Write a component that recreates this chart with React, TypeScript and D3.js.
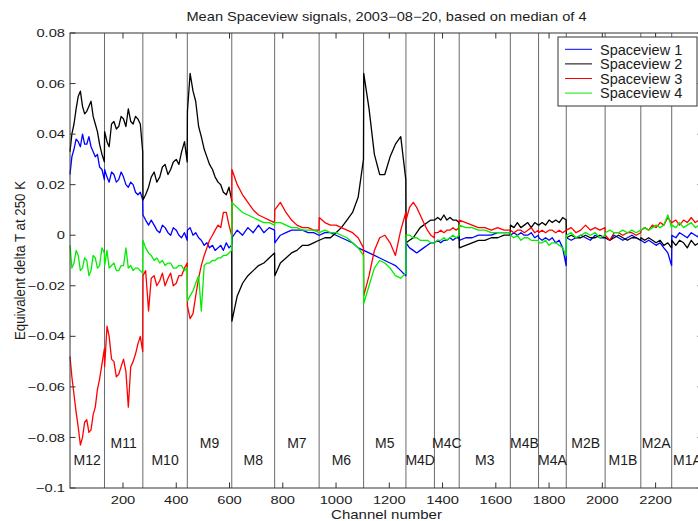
import React from "react";
import * as d3 from "d3";

// AIRS module layout (channel ranges)
const moduleNames = ["M12", "M11", "M10", "M9", "M8", "M7", "M6", "M5", "M4D", "M4C", "M3", "M4B", "M4A", "M2B", "M1B", "M2A", "M1A"];
const moduleStart = [1, 131, 275, 442, 609, 770, 937, 1104, 1263, 1370, 1463, 1655, 1761, 1865, 2011, 2145, 2261];
const moduleEnd = [130, 274, 441, 608, 769, 936, 1103, 1262, 1369, 1462, 1654, 1760, 1864, 2010, 2144, 2260, 2378];
const labelLevel = [-0.089, -0.082, -0.089, -0.082, -0.089, -0.082, -0.089, -0.082, -0.089, -0.082, -0.089, -0.082, -0.089, -0.082, -0.089, -0.082, -0.089];

// sampled channels, one row per module
const channels = [
  1, 8, 16, 24, 32, 40, 48, 56, 64, 72, 80, 88, 96, 104, 112, 121, 130,
  131, 140, 148, 157, 166, 175, 184, 193, 202, 211, 220, 229, 238, 247, 256, 265, 274,
  275, 285, 296, 306, 317, 327, 338, 348, 358, 369, 379, 389, 400, 410, 420, 431, 441,
  442, 452, 463, 473, 484, 494, 505, 515, 525, 536, 546, 557, 567, 577, 588, 598, 608,
  609, 629, 649, 669, 689, 709, 729, 749, 769,
  770, 791, 812, 833, 853, 874, 895, 916, 936,
  937, 958, 979, 1000, 1020, 1041, 1062, 1083, 1103,
  1104, 1124, 1144, 1164, 1183, 1203, 1223, 1243, 1262,
  1263, 1276, 1290, 1303, 1316, 1329, 1343, 1356, 1369,
  1370, 1382, 1393, 1405, 1416, 1428, 1439, 1451, 1462,
  1463, 1487, 1511, 1535, 1559, 1583, 1607, 1631, 1654,
  1655, 1668, 1681, 1694, 1707, 1720, 1733, 1746, 1760,
  1761, 1774, 1787, 1800, 1812, 1825, 1838, 1851, 1864,
  1865, 1883, 1901, 1919, 1937, 1955, 1973, 1991, 2010,
  2011, 2028, 2044, 2061, 2077, 2094, 2111, 2127, 2144,
  2145, 2159, 2174, 2188, 2202, 2217, 2231, 2246, 2260,
  2261, 2276, 2290, 2305, 2319, 2334, 2349, 2363, 2378,
];

const spaceview1 = [
  0.024, 0.031, 0.034, 0.038, 0.037, 0.035, 0.040, 0.036, 0.036, 0.039, 0.035, 0.033, 0.031, 0.032, 0.027, 0.026, 0.022,
  0.026, 0.023, 0.021, 0.025, 0.024, 0.021, 0.022, 0.025, 0.023, 0.020, 0.019, 0.021, 0.020, 0.017, 0.016, 0.017, 0.014,
  0.008, 0.006, 0.004, 0.006, 0.004, 0.002, 0.001, 0.004, 0.003, 0.001, 0.000, 0.003, 0.002, 0.000, -0.001, 0.001, -0.002,
  0.002, 0.003, 0.000, 0.001, -0.001, -0.002, -0.004, -0.003, -0.005, -0.004, -0.006, -0.005, -0.004, -0.006, -0.003, -0.005, -0.004,
  -0.001, 0.002, 0.000, 0.003, 0.001, 0.004, 0.001, 0.003, 0.002,
  -0.003, 0.000, 0.001, 0.002, 0.002, 0.002, 0.001, 0.001, 0.000,
  0.000, 0.001, 0.001, 0.000, -0.001, -0.002, -0.003, -0.005, -0.006,
  -0.006, -0.007, -0.008, -0.009, -0.010, -0.011, -0.012, -0.014, -0.016,
  -0.003, -0.005, -0.006, -0.007, -0.006, -0.005, -0.004, -0.003, -0.003,
  -0.003, -0.002, -0.003, -0.002, -0.002, -0.001, -0.002, -0.001, -0.001,
  -0.002, -0.001, -0.001, 0.000, 0.000, 0.000, 0.001, 0.001, 0.001,
  0.000, 0.001, 0.000, 0.001, 0.000, 0.000, 0.001, -0.001, 0.000,
  -0.001, -0.002, -0.001, -0.002, -0.001, -0.003, -0.002, -0.005, -0.012,
  -0.001, -0.002, -0.001, 0.000, -0.001, -0.002, 0.000, -0.001, -0.001,
  -0.001, -0.002, 0.000, -0.001, -0.002, -0.001, 0.000, -0.001, -0.002,
  -0.002, -0.003, -0.002, -0.003, -0.004, -0.003, -0.005, -0.007, -0.012,
  0.000, -0.001, 0.001, 0.000, -0.001, 0.001, 0.000, -0.001, 0.000,
];

const spaceview2 = [
  0.033, 0.040, 0.044, 0.050, 0.055, 0.057, 0.051, 0.048, 0.049, 0.051, 0.053, 0.047, 0.044, 0.041, 0.036, 0.032, 0.029,
  0.041, 0.037, 0.035, 0.044, 0.045, 0.042, 0.043, 0.047, 0.046, 0.043, 0.050, 0.045, 0.044, 0.047, 0.046, 0.044, 0.033,
  0.014, 0.016, 0.019, 0.023, 0.025, 0.021, 0.023, 0.027, 0.028, 0.024, 0.026, 0.029, 0.030, 0.028, 0.033, 0.037, 0.029,
  0.049, 0.064, 0.057, 0.053, 0.043, 0.039, 0.034, 0.031, 0.028, 0.026, 0.023, 0.021, 0.020, 0.017, 0.016, 0.019, 0.014,
  -0.034, -0.024, -0.019, -0.016, -0.014, -0.012, -0.011, -0.009, -0.007,
  -0.016, -0.011, -0.009, -0.007, -0.006, -0.004, -0.004, -0.003, -0.002,
  -0.002, -0.001, -0.001, 0.001, 0.003, 0.006, 0.009, 0.015, 0.030,
  0.064, 0.050, 0.032, 0.024, 0.024, 0.031, 0.036, 0.039, 0.022,
  -0.003, -0.002, -0.001, 0.001, 0.003, 0.004, 0.005, 0.006, 0.006,
  0.006, 0.007, 0.006, 0.008, 0.006, 0.007, 0.006, 0.006, 0.005,
  -0.005, -0.004, -0.003, -0.002, -0.002, -0.001, -0.001, 0.000, 0.000,
  0.004, 0.003, 0.005, 0.003, 0.004, 0.005, 0.003, 0.005, 0.004,
  0.004, 0.005, 0.004, 0.006, 0.005, 0.006, 0.005, 0.007, 0.006,
  -0.001, 0.000, -0.001, -0.001, 0.000, -0.001, -0.001, 0.000, -0.001,
  -0.001, -0.002, -0.001, 0.000, -0.001, -0.002, -0.001, -0.001, -0.002,
  -0.001, -0.002, -0.001, -0.002, -0.003, -0.002, -0.004, -0.003, -0.005,
  -0.002, -0.004, -0.002, -0.003, -0.005, -0.002, -0.004, -0.003, -0.003,
];

const spaceview3 = [
  -0.048, -0.056, -0.063, -0.070, -0.076, -0.083, -0.080, -0.074, -0.073, -0.078, -0.077, -0.071, -0.068, -0.061, -0.057, -0.051, -0.045,
  -0.052, -0.036, -0.040, -0.049, -0.050, -0.056, -0.055, -0.052, -0.049, -0.054, -0.068, -0.052, -0.050, -0.047, -0.043, -0.040, -0.046,
  -0.016, -0.014, -0.030, -0.017, -0.016, -0.020, -0.018, -0.015, -0.020, -0.017, -0.015, -0.020, -0.019, -0.016, -0.016, -0.013, -0.011,
  -0.028, -0.033, -0.031, -0.024, -0.017, -0.012, -0.008, -0.005, -0.002, 0.000, 0.002, 0.004, 0.003, 0.009, 0.009, 0.004, 0.000,
  0.026, 0.020, 0.016, 0.013, 0.010, 0.008, 0.007, 0.006, 0.005,
  0.010, 0.013, 0.009, 0.006, 0.004, 0.003, 0.003, 0.002, 0.002,
  0.007, 0.005, 0.004, 0.004, 0.003, 0.002, 0.001, -0.001, -0.005,
  -0.024, -0.016, -0.006, -0.001, 0.000, -0.003, -0.008, 0.002, 0.009,
  0.006, 0.011, 0.013, 0.011, 0.008, 0.005, 0.002, 0.000, -0.001,
  0.001, 0.001, 0.002, 0.001, 0.002, 0.002, 0.003, 0.002, 0.003,
  0.006, 0.005, 0.004, 0.003, 0.003, 0.002, 0.003, 0.002, 0.002,
  0.002, 0.001, 0.002, 0.002, 0.001, 0.002, 0.003, 0.001, 0.002,
  0.001, 0.002, 0.001, 0.002, 0.002, 0.001, 0.002, 0.001, 0.002,
  0.002, 0.003, 0.001, 0.002, 0.004, 0.002, 0.003, 0.002, 0.003,
  0.000, -0.002, 0.001, 0.001, 0.000, 0.001, 0.001, 0.000, 0.001,
  0.002, 0.003, 0.002, 0.004, 0.003, 0.005, 0.004, 0.007, 0.005,
  0.005, 0.006, 0.004, 0.006, 0.005, 0.007, 0.005, 0.006, 0.005,
];

const spaceview4 = [
  -0.004, -0.013, -0.011, -0.006, -0.008, -0.014, -0.013, -0.009, -0.010, -0.016, -0.014, -0.008, -0.009, -0.013, -0.012, -0.005, -0.007,
  -0.012, -0.006, -0.013, -0.012, -0.011, -0.014, -0.014, -0.012, -0.012, -0.005, -0.013, -0.012, -0.014, -0.013, -0.013, -0.014, -0.015,
  -0.002, -0.005, -0.007, -0.008, -0.010, -0.009, -0.011, -0.010, -0.012, -0.011, -0.011, -0.013, -0.013, -0.012, -0.012, -0.014, -0.013,
  -0.026, -0.024, -0.022, -0.019, -0.016, -0.030, -0.012, -0.011, -0.011, -0.010, -0.010, -0.009, -0.009, -0.008, -0.008, -0.007, -0.006,
  0.013, 0.011, 0.009, 0.008, 0.007, 0.006, 0.005, 0.005, 0.004,
  0.005, 0.005, 0.004, 0.003, 0.003, 0.002, 0.002, 0.002, 0.001,
  0.001, 0.002, 0.001, 0.001, 0.000, -0.001, -0.003, -0.005, -0.008,
  -0.027, -0.020, -0.013, -0.010, -0.011, -0.013, -0.016, -0.017, -0.015,
  0.000, 0.000, -0.001, -0.001, -0.002, -0.002, -0.002, -0.003, -0.003,
  -0.003, -0.002, -0.002, -0.001, -0.002, -0.001, 0.000, -0.001, 0.000,
  0.004, 0.003, 0.003, 0.002, 0.002, 0.001, 0.001, 0.001, 0.001,
  0.000, -0.001, 0.000, -0.002, -0.001, -0.001, -0.002, -0.002, -0.002,
  -0.003, -0.003, -0.002, -0.004, -0.003, -0.003, -0.004, -0.005, -0.008,
  0.000, 0.001, -0.001, 0.000, 0.001, 0.000, 0.001, -0.001, 0.000,
  0.001, 0.002, 0.001, 0.001, 0.002, 0.001, 0.002, 0.001, 0.002,
  0.002, 0.003, 0.002, 0.003, 0.004, 0.003, 0.004, 0.008, 0.003,
  0.004, 0.003, 0.005, 0.003, 0.004, 0.005, 0.003, 0.004, 0.004,
];

const seriesNames = ["Spaceview 1", "Spaceview 2", "Spaceview 3", "Spaceview 4"];
const seriesColors = ["#0000ff", "#000000", "#ff0000", "#00ee00"];
const seriesValues = [spaceview1, spaceview2, spaceview3, spaceview4];

const xTicks = [200, 400, 600, 800, 1000, 1200, 1400, 1600, 1800, 2000, 2200];
const yTicks = [-0.1, -0.08, -0.06, -0.04, -0.02, 0, 0.02, 0.04, 0.06, 0.08];
const yTickLabels = ["\u22120.1", "\u22120.08", "\u22120.06", "\u22120.04", "\u22120.02", "0", "0.02", "0.04", "0.06", "0.08"];

const FONT = "'Liberation Sans', Arial, Helvetica, sans-serif";
const INK = "#1c1c1c";

const App = () => {
  const width = 698;
  const height = 521;
  const left = 70;
  const right = 703; // axis box runs past the picture edge
  const top = 33;
  const bottom = 488;
  const tick = 5.5;

  const x = d3.scaleLinear().domain([1, 2378]).range([left, right]);
  const y = d3.scaleLinear().domain([-0.1, 0.08]).range([bottom, top]);

  const boundaries = moduleEnd.slice(0, -1).map((e, i) => (e + moduleStart[i + 1]) / 2);

  const line = (vals: number[]) =>
    d3.line<number>()
      .x((_, i) => x(channels[i]))
      .y((d) => y(d))(vals) || "";

  const midX = (left + right) / 2;
  const midY = (top + bottom) / 2;

  return (
    <svg width={width} height={height} style={{ position: "absolute", left: 0, top: 0, background: "#fff" }} fontFamily={FONT}>
      <rect x={0} y={0} width={width} height={height} fill="#fff" />

      {/* module boundaries */}
      {boundaries.map((b, i) => (
        <line key={"b" + i} x1={x(b)} x2={x(b)} y1={top} y2={bottom} stroke="#6a6a6a" strokeWidth={1} />
      ))}

      {/* data */}
      <g fill="none" strokeWidth={1.3} strokeLinejoin="round">
        {seriesValues.map((vals, k) => (
          <path key={k} d={line(vals)} stroke={seriesColors[k]} />
        ))}
      </g>

      {/* module labels */}
      {moduleNames.map((m, i) => (
        <text key={m} x={x((moduleStart[i] + moduleEnd[i]) / 2)} y={y(labelLevel[i])} dy="0.36em"
          textAnchor="middle" fontSize={14} fill={INK}>{m}</text>
      ))}

      {/* axes box */}
      <rect x={left} y={top} width={right - left} height={bottom - top} fill="none" stroke="#333" strokeWidth={1} />
      {xTicks.map((t) => (
        <g key={"xt" + t} stroke="#333">
          <line x1={x(t)} x2={x(t)} y1={bottom} y2={bottom - tick} />
          <line x1={x(t)} x2={x(t)} y1={top} y2={top + tick} />
        </g>
      ))}
      {yTicks.map((t) => (
        <g key={"yt" + t} stroke="#333">
          <line x1={left} x2={left + tick} y1={y(t)} y2={y(t)} />
          <line x1={right} x2={right - tick} y1={y(t)} y2={y(t)} />
        </g>
      ))}
      {xTicks.map((t) => (
        <text key={"xl" + t} transform={`translate(${x(t)},504) scale(1.28,1)`} textAnchor="middle" fontSize={11.5} fill={INK}>{t}</text>
      ))}
      {yTicks.map((t, i) => (
        <text key={"yl" + t} transform={`translate(65,${y(t)}) scale(1.28,1)`} dy="0.36em" textAnchor="end" fontSize={11.5} fill={INK}>{yTickLabels[i]}</text>
      ))}

      {/* titles */}
      <text transform={`translate(${midX},21) scale(1.22,1)`} textAnchor="middle" fontSize={12} fill={INK}>
        Mean Spaceview signals, 2003{"\u2212"}08{"\u2212"}20, based on median of 4
      </text>
      <text transform={`translate(${midX},519) scale(1.2,1)`} textAnchor="middle" fontSize={12.5} fill={INK}>Channel number</text>
      <text transform={`translate(25,${midY}) scale(1.16,1) rotate(-90)`} textAnchor="middle" fontSize={13.3} fill={INK}>Equivalent delta T at 250 K</text>

      {/* legend */}
      <g>
        <rect x={558} y={37} width={139} height={69} fill="#fff" stroke="#333" strokeWidth={1} />
        {seriesNames.map((s, k) => (
          <g key={s} transform={`translate(0,${49.3 + k * 14.6})`}>
            <line x1={565} x2={592} y1={0} y2={0} stroke={seriesColors[k]} strokeWidth={1} />
            <text x={600} y={0} dy="0.36em" fontSize={14.5} fill={INK}>{s}</text>
          </g>
        ))}
      </g>
    </svg>
  );
};

export default App;
